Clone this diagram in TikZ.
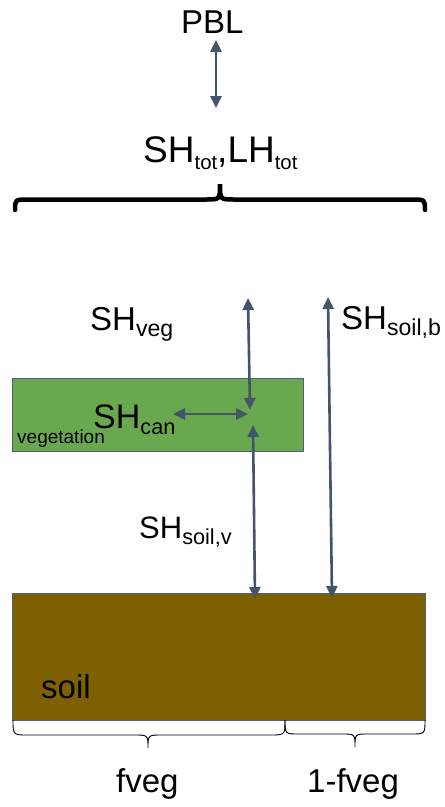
\documentclass[tikz,border=0pt]{standalone}
\usepackage{fontspec}
\setmainfont{Liberation Sans}
\usetikzlibrary{arrows.meta}
\definecolor{arr}{HTML}{44546A}
\definecolor{vegc}{HTML}{6AA84F}
\definecolor{soilc}{HTML}{7F6000}
\definecolor{edgec}{HTML}{4F5F75}
\newcommand{\lo}[2][0.7]{\raisebox{-0.2em}{\scalebox{#1}{#2}}}
\newcommand{\fs}[1]{\fontsize{#1}{#1}\selectfont}
\tikzset{
 lbl/.style={inner sep=0pt, anchor=base west, text=black},
 flux/.style={draw=arr, line width=2.6pt, {Triangle[length=12pt,width=11pt]}-{Triangle[length=12pt,width=11pt]}},
 layer/.style={draw=edgec, line width=0.8pt, inner sep=0pt, anchor=north west},
 bigbrace/.style={draw=black, line width=4.5pt, line cap=round},
 smallbrace/.style={draw=black, line width=0.9pt},
}
\begin{document}
\begin{tikzpicture}[x=1pt,y=-1pt]
\useasboundingbox (0,0) rectangle (445,807);
\fill[white] (0,0) rectangle (445,807);

% layers
\node[layer, fill=vegc, minimum width=291pt, minimum height=73pt] (vegbox) at (12,378) {};
\node[layer, fill=soilc, minimum width=413pt, minimum height=127pt] (soilbox) at (12,593) {};

% labels
\node[lbl, font=\fs{33}] (pbl) at (181,33) {PBL};
\node[lbl, font=\fs{37}] (tot) at (143,162) {SH\lo[0.55]{tot},LH\lo[0.55]{tot}};
\node[lbl, font=\fs{33}] (shveg) at (90,330) {SH\lo{veg}};
\node[lbl, font=\fs{33}] (shsoilb) at (341,329) {SH\lo{soil,b}};
\node[lbl, font=\fs{34}] (shcan) at (93,428) {SH\lo[0.64]{can}};
\node[lbl, font=\fs{19}] (vegtxt) at (17,443) {vegetation};
\node[lbl, font=\fs{31}] (shsoilv) at (139,538) {SH\lo{soil,v}};
\node[lbl, font=\fs{33}] (soiltxt) at (41,698) {soil};
\node[lbl, font=\fs{33}] (fveg) at (116,792) {fveg};
\node[lbl, font=\fs{33}] (onefveg) at (307,792) {1-fveg};

% arrow end points
\coordinate (pblA) at (216,40);
\coordinate (totA) at (216,108);
\coordinate (vegTop) at (248,298);
\coordinate (vegBot) at (250,410);
\coordinate (canL) at (173,414);
\coordinate (canR) at (248,414);
\coordinate (svTop) at (253,425);
\coordinate (svBot) at (255,599);
\coordinate (sbTop) at (328,297);
\coordinate (sbBot) at (332,598);

\draw[flux] (pblA) -- (totA);
\draw[flux] (vegTop) -- (vegBot);
\draw[flux] (canL) -- (canR);
\draw[flux] (svTop) -- (svBot);
\draw[flux] (sbTop) -- (sbBot);

% big brace
\draw[bigbrace] (15,210) .. controls (15,199.5) .. (29,199.5) -- (206,199.5)
  .. controls (220,199.5) .. (220,184) .. controls (220,199.5) .. (234,199.5)
  -- (411,199.5) .. controls (425,199.5) .. (425,210);

% small braces
\draw[smallbrace] (13,720) .. controls (13,735) .. (28,735) -- (134,735)
  .. controls (148,735) .. (148,748) .. controls (148,735) .. (162,735)
  -- (270,735) .. controls (285,735) .. (285,720);
\draw[smallbrace] (285,720) .. controls (285,734) .. (299,734) -- (342,734)
  .. controls (355,734) .. (355,747) .. controls (355,734) .. (368,734)
  -- (411,734) .. controls (425,734) .. (425,720);
\end{tikzpicture}
\end{document}
